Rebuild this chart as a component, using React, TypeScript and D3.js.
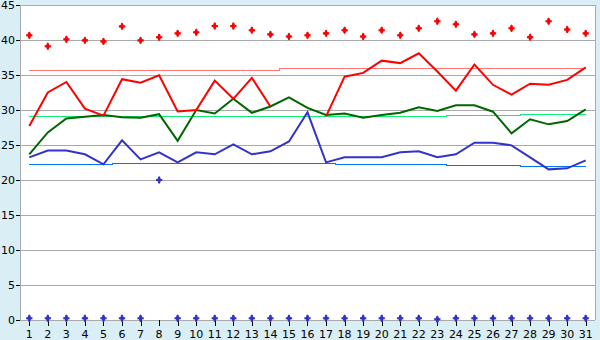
import React from "react";
import * as d3 from "d3";

const days: number[] = Array.from({ length: 31 }, (_, i) => i + 1);
const yTicks: number[] = [0, 5, 10, 15, 20, 25, 30, 35, 40, 45];

const maxRecord: number[] = [40.67, 39.1, 40.1, 39.95, 39.8, 41.95, 39.95, 40.4, 40.95, 41.1, 42.0, 42.0, 41.4, 40.8, 40.5, 40.67, 40.95, 41.4, 40.5, 41.4, 40.67, 41.67, 42.67, 42.24, 40.8, 40.95, 41.67, 40.4, 42.67, 41.5, 40.95];
const maxTemp: (number | null)[] = [27.7, 32.5, 34.0, 30.2, 29.2, 34.4, 33.9, 34.95, 29.8, 30.0, 34.2, 31.6, 34.6, 30.5, null, null, 29.1, 34.76, 35.3, 37.05, 36.7, 38.1, 35.5, 32.76, 36.5, 33.6, 32.2, 33.76, 33.6, 34.3, 36.1];
const maxNormal: number[] = [35.67, 35.67, 35.67, 35.67, 35.67, 35.67, 35.67, 35.67, 35.67, 35.67, 35.67, 35.67, 35.67, 35.67, 35.86, 35.86, 35.86, 35.86, 35.86, 35.86, 35.86, 35.95, 35.95, 35.95, 35.95, 35.95, 35.95, 35.95, 35.95, 35.95, 35.95];
const meanTemp: number[] = [23.67, 26.8, 28.8, 29.05, 29.3, 28.95, 28.9, 29.4, 25.6, 30.0, 29.5, 31.6, 29.6, 30.5, 31.8, 30.3, 29.3, 29.5, 28.9, 29.3, 29.6, 30.4, 29.86, 30.67, 30.67, 29.76, 26.67, 28.67, 27.95, 28.43, 30.1];
const meanNormal: number[] = [29.1, 29.1, 29.1, 29.1, 29.1, 29.1, 29.1, 29.1, 29.1, 29.1, 29.1, 29.1, 29.1, 29.1, 29.1, 29.1, 29.1, 29.1, 29.1, 29.1, 29.1, 29.1, 29.1, 29.25, 29.25, 29.25, 29.25, 29.4, 29.4, 29.4, 29.4];
const minTemp: number[] = [23.24, 24.2, 24.2, 23.67, 22.24, 25.67, 22.95, 23.95, 22.52, 23.95, 23.67, 25.1, 23.67, 24.1, 25.5, 29.67, 22.52, 23.24, 23.24, 23.24, 23.95, 24.1, 23.24, 23.67, 25.33, 25.33, 24.95, 23.24, 21.52, 21.67, 22.81];
const minNormal: number[] = [22.24, 22.24, 22.24, 22.24, 22.24, 22.38, 22.38, 22.38, 22.38, 22.38, 22.38, 22.38, 22.38, 22.38, 22.38, 22.38, 22.38, 22.24, 22.24, 22.24, 22.24, 22.24, 22.24, 22.1, 22.1, 22.1, 22.1, 21.95, 21.95, 21.95, 21.95];
const bluePoints: number[] = [0.25, 0.25, 0.25, 0.25, 0.25, 0.25, 0.25, 20, 0.25, 0.25, 0.25, 0.25, 0.25, 0.25, 0.25, 0.25, 0.25, 0.25, 0.25, 0.25, 0.25, 0.25, 0.1, 0.25, 0.25, 0.25, 0.25, 0.25, 0.25, 0.25, 0.25];

const W = 600;
const H = 340;
const M = { left: 20, right: 5, top: 5, bottom: 20 };
const FONT = "DejaVu Sans, Verdana, sans-serif";

export default function App() {
  const x = d3
    .scaleBand<number>()
    .domain(days)
    .range([M.left, W - M.right])
    .padding(0);
  const cx = (d: number) => (x(d) as number) + x.bandwidth() / 2;
  const y = d3.scaleLinear().domain([0, 45]).range([H - M.bottom, M.top]);

  const line = (vals: (number | null)[], curve: d3.CurveFactory = d3.curveLinear) =>
    d3
      .line<number>()
      .defined((_, i) => vals[i] != null)
      .x((d) => cx(d))
      .y((_, i) => y(vals[i] as number))
      .curve(curve)(days) || "";

  const marker = d3.symbol().type(d3.symbolCross).size(22)() || "";
  const marker2 = d3.symbol().type(d3.symbolDiamond).size(18)() || "";

  return (
    <svg
      width={W}
      height={H}
      style={{ position: "absolute", left: 0, top: 0, display: "block" }}
    >
      <rect x={0} y={0} width={W} height={H} fill="#d9eef5" />
      <rect
        x={M.left}
        y={M.top}
        width={W - M.left - M.right}
        height={H - M.top - M.bottom}
        fill="#ffffff"
      />
      {yTicks.map((t) => (
        <g key={t}>
          <line
            x1={M.left}
            x2={W - M.right}
            y1={Math.round(y(t)) + 0.5}
            y2={Math.round(y(t)) + 0.5}
            stroke="#aaaaaa"
            strokeWidth={1}
          />
          <line
            x1={M.left - 4}
            x2={M.left}
            y1={Math.round(y(t)) + 0.5}
            y2={Math.round(y(t)) + 0.5}
            stroke="#000000"
            strokeWidth={1}
          />
          <text
            x={M.left - 5}
            y={y(t)}
            dy="0.35em"
            textAnchor="end"
            fontFamily={FONT}
            fontSize={11}
            fill="#000"
          >
            {t}
          </text>
        </g>
      ))}
      <line x1={M.left + 0.5} x2={M.left + 0.5} y1={M.top} y2={H - M.bottom} stroke="#aaaaaa" />
      <line x1={W - M.right + 0.5} x2={W - M.right + 0.5} y1={M.top} y2={H - M.bottom} stroke="#aaaaaa" />
      {days.map((d) => (
        <g key={d}>
          <line
            x1={Math.round(cx(d)) + 0.5}
            x2={Math.round(cx(d)) + 0.5}
            y1={H - M.bottom}
            y2={H - M.bottom + 6}
            stroke="#000"
          />
          <text
            x={cx(d)}
            y={H - 2}
            textAnchor="middle"
            fontFamily={FONT}
            fontSize={11}
            fill="#000"
          >
            {d}
          </text>
        </g>
      ))}
      <path d={line(maxNormal, d3.curveStep)} fill="none" stroke="#ff7777" strokeWidth={1} shapeRendering="crispEdges" />
      <path d={line(meanNormal, d3.curveStep)} fill="none" stroke="#11ee77" strokeWidth={1} shapeRendering="crispEdges" />
      <path d={line(minNormal, d3.curveStep)} fill="none" stroke="#0077ee" strokeWidth={1} shapeRendering="crispEdges" />
      <path d={line(minTemp)} fill="none" stroke="#3333cc" strokeWidth={2} />
      <path d={line(meanTemp)} fill="none" stroke="#006600" strokeWidth={2} />
      <path d={line(maxTemp)} fill="none" stroke="#ff0000" strokeWidth={2} />
      {days.map((d, i) => (
        <g key={"r" + d} transform={`translate(${cx(d)},${y(maxRecord[i])})`} fill="#ff0000">
          <path d={marker} />
          <path d={marker2} />
        </g>
      ))}
      {days.map((d, i) => (
        <g key={"b" + d} transform={`translate(${cx(d)},${y(bluePoints[i])})`} fill="#3333cc">
          <path d={marker} />
          <path d={marker2} />
        </g>
      ))}
    </svg>
  );
}
